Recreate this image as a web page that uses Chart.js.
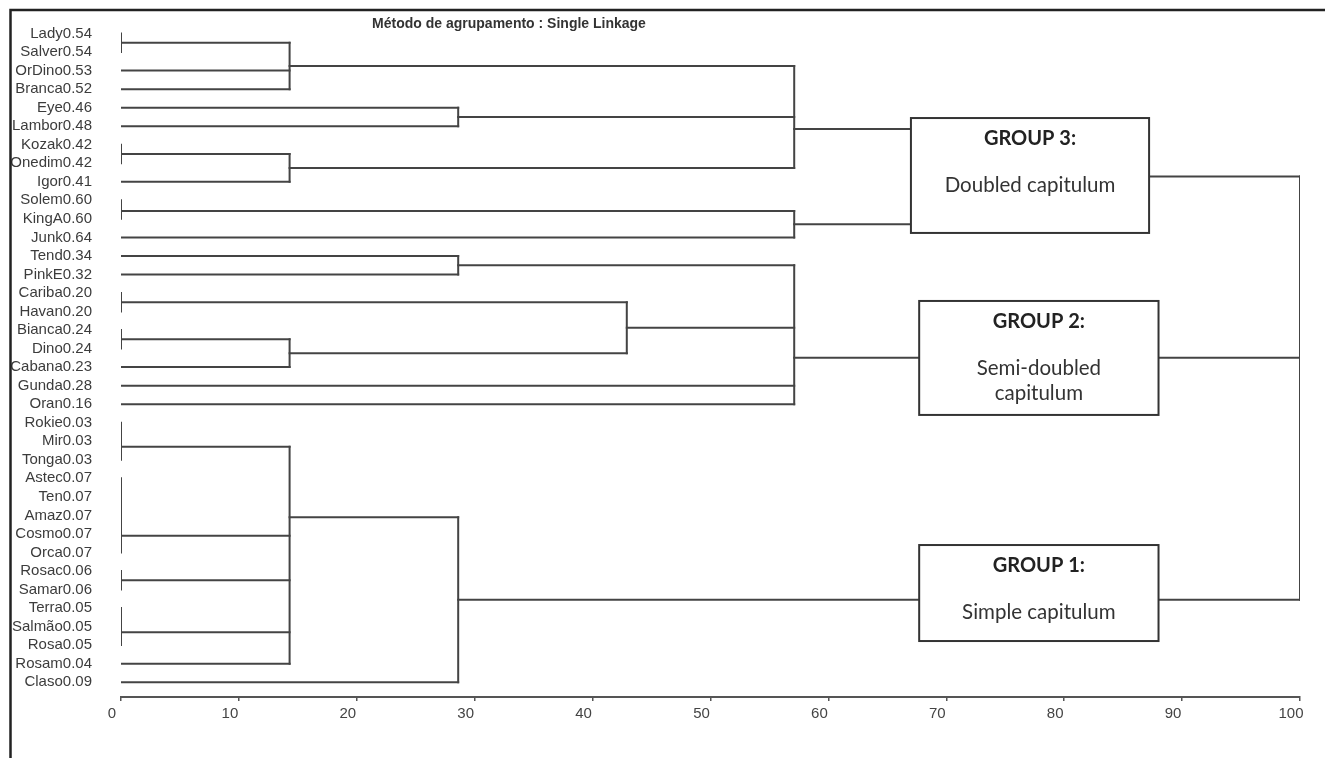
<!DOCTYPE html>
<html>
<head>
<meta charset="utf-8">
<script src="https://cdn.jsdelivr.net/npm/chart.js@4.4.0/dist/chart.umd.min.js"></script>
<style>
  html, body { margin: 0; padding: 0; background: #ffffff; }
  #wrap { position: relative; width: 1325px; height: 758px; }
</style>
</head>
<body>
<div id="wrap"><canvas id="c"></canvas></div>
<script>
// ---------------- DATA ----------------
const chartTitle = "Método de agrupamento : Single Linkage";

const leafNames = ["Lady","Salver","OrDino","Branca","Eye","Lambor","Kozak","Onedim","Igor",
  "Solem","KingA","Junk","Tend","PinkE","Cariba","Havan","Bianca","Dino","Cabana","Gunda","Oran",
  "Rokie","Mir","Tonga","Astec","Ten","Amaz","Cosmo","Orca","Rosac","Samar","Terra","Salmão",
  "Rosa","Rosam","Claso"];
const leafValues = [0.54,0.54,0.53,0.52,0.46,0.48,0.42,0.42,0.41,
  0.60,0.60,0.64,0.34,0.32,0.20,0.20,0.24,0.24,0.23,0.28,0.16,
  0.03,0.03,0.03,0.07,0.07,0.07,0.07,0.07,0.06,0.06,0.05,0.05,
  0.05,0.04,0.09];

const xTickValues = [0,10,20,30,40,50,60,70,80,90,100];

// groups of identical leaves joined at distance 0: [first leaf, last leaf]
const tieGroups = [[0,1],[6,7],[9,10],[14,15],[16,17],[21,23],[24,28],[29,30],[31,33]];
const tieRows   = [0.5, 6.5, 9.58, 14.5, 16.5, 22.3, 27.1, 29.5, 32.3];

// merges (L = leaf, T = tie group, M = merge)
const mergeChildren = [
  ["T0","L2","L3"],          // M0
  ["L4","L5"],               // M1
  ["T1","L8"],               // M2
  ["M0","M1","M2"],          // M3
  ["T2","L11"],              // M4
  ["M3","M4"],               // M5 (group 3, inside box)
  ["L12","L13"],             // M6
  ["T4","L18"],              // M7
  ["T3","M7"],               // M8
  ["M6","M8","L19","L20"],   // M9 (group 2)
  ["T5","T6","T7","T8","L34"], // M10
  ["M10","L35"],             // M11 (group 1)
  ["M5","M9","M11"]          // M12 root
];
const mergeHeights = [14.3, 28.6, 14.3, 57.1, 57.1, 77, 28.6, 14.3, 42.9, 57.1, 14.3, 28.6, 100];
const mergeRows    = [null, null, null, 5.15, null, null, null, null, null, 17.5, 26.1, null, null];

const groupTitles = ["GROUP 3:", "GROUP 2:", "GROUP 1:"];
const groupDescriptions = [["Doubled capitulum"], ["Semi-doubled", "capitulum"], ["Simple capitulum"]];

// ---------------- LAYOUT / STYLE ----------------
const boxLayout = [
  {x0: 67.0, x1: 87.2, r0: 4.56, r1: 10.76},
  {x0: 67.7, x1: 88.0, r0: 14.43, r1: 20.58},
  {x0: 67.7, x1: 88.0, r0: 27.6, r1: 32.78}
];
const LINE = '#444444';

// ---------------- BUILD SEGMENTS ----------------
const segments = [];
const nodeCache = {};
function node(id) {
  if (nodeCache[id]) return nodeCache[id];
  const k = parseInt(id.slice(1), 10);
  let res;
  if (id[0] === 'L') {
    res = {h: 0, row: k};
  } else if (id[0] === 'T') {
    const g = tieGroups[k];
    segments.push([{x: 0, y: g[0]}, {x: 0, y: g[1]}]);
    res = {h: 0, row: tieRows[k]};
  } else {
    const h = mergeHeights[k];
    const kids = mergeChildren[k].map(node);
    const rows = kids.map(c => c.row);
    const lo = Math.min(...rows), hi = Math.max(...rows);
    kids.forEach(c => segments.push([{x: c.h, y: c.row}, {x: h, y: c.row}]));
    segments.push([{x: h, y: lo}, {x: h, y: hi}]);
    const row = mergeRows[k] != null ? mergeRows[k] : (lo + hi) / 2;
    res = {h: h, row: row};
  }
  nodeCache[id] = res;
  return res;
}
node("M" + (mergeChildren.length - 1));

const datasets = segments.map(s => ({
  data: s,
  showLine: true,
  borderColor: LINE,
  borderWidth: 2,
  borderCapStyle: 'square',
  pointRadius: 0,
  pointHoverRadius: 0,
  fill: false
}));

// ---------------- PLUGINS ----------------
const decorPlugin = {
  id: 'decor',
  afterDatasetsDraw(chart) {
    const ctx = chart.ctx, xs = chart.scales.x, ys = chart.scales.y;
    ctx.save();
    boxLayout.forEach((b, i) => {
      const x0 = xs.getPixelForValue(b.x0), x1 = xs.getPixelForValue(b.x1);
      const y0 = ys.getPixelForValue(b.r0), y1 = ys.getPixelForValue(b.r1);
      ctx.fillStyle = '#ffffff';
      ctx.fillRect(x0, y0, x1 - x0, y1 - y0);
      ctx.strokeStyle = '#333333';
      ctx.lineWidth = 2;
      ctx.strokeRect(x0, y0, x1 - x0, y1 - y0);
      const cx = (x0 + x1) / 2;
      ctx.textAlign = 'center';
      ctx.textBaseline = 'middle';
      ctx.fillStyle = '#222222';
      ctx.font = 'bold 20px Lato';
      ctx.fillText(groupTitles[i], cx, y0 + 21);
      ctx.fillStyle = '#333333';
      ctx.font = '20.5px Lato';
      groupDescriptions[i].forEach((t, j) => ctx.fillText(t, cx, y0 + 67 + j * 25));
    });
    ctx.restore();
  },
  afterDraw(chart) {
    const ctx = chart.ctx;
    ctx.save();
    ctx.fillStyle = '#333333';
    ctx.font = 'bold 14px "Liberation Sans"';
    ctx.textAlign = 'center';
    ctx.textBaseline = 'middle';
    ctx.fillText(chartTitle, 509, 24);
    ctx.strokeStyle = '#222222';
    ctx.lineWidth = 2.5;
    ctx.beginPath();
    ctx.moveTo(10.5, 758);
    ctx.lineTo(10.5, 10);
    ctx.lineTo(1325, 10);
    ctx.stroke();
    ctx.restore();
  }
};

// ---------------- CHART ----------------
new Chart(document.getElementById('c'), {
  type: 'scatter',
  data: { datasets },
  options: {
    responsive: true,
    maintainAspectRatio: false,
    animation: false,
    events: [],
    layout: { padding: { top: 15, right: 25, left: 0, bottom: 0 } },
    plugins: { legend: { display: false }, tooltip: { enabled: false }, title: { display: false } },
    scales: {
      x: {
        type: 'linear', min: 0, max: 100,
        afterFit(s) { s.height = 61; s.paddingLeft = 0; s.paddingRight = 0; },
        afterBuildTicks(s) { s.ticks = xTickValues.map(v => ({value: v})); },
        border: { display: true, color: '#555555', width: 2 },
        grid: { drawOnChartArea: false, drawTicks: true, tickLength: 4, color: '#555555', lineWidth: 1.5 },
        ticks: { labelOffset: -9, padding: 4, color: '#444444', maxRotation: 0,
                 font: { family: 'Liberation Sans', size: 15 } }
      },
      y: {
        type: 'linear', reverse: true, min: -1, max: 35.8,
        afterFit(s) { s.width = 121; s.paddingTop = 0; s.paddingBottom = 0; },
        afterBuildTicks(s) { s.ticks = leafNames.map((n, i) => ({value: i})); },
        border: { display: false },
        grid: { display: false, drawTicks: false },
        ticks: {
          autoSkip: false, padding: 29, color: '#3c3c3c',
          font: { family: 'Liberation Sans', size: 15 },
          callback: (v) => (Number.isInteger(v) && v >= 0 && v < leafNames.length)
            ? leafNames[v] + leafValues[v].toFixed(2) : ''
        }
      }
    }
  },
  plugins: [decorPlugin]
});
</script>
</body>
</html>
